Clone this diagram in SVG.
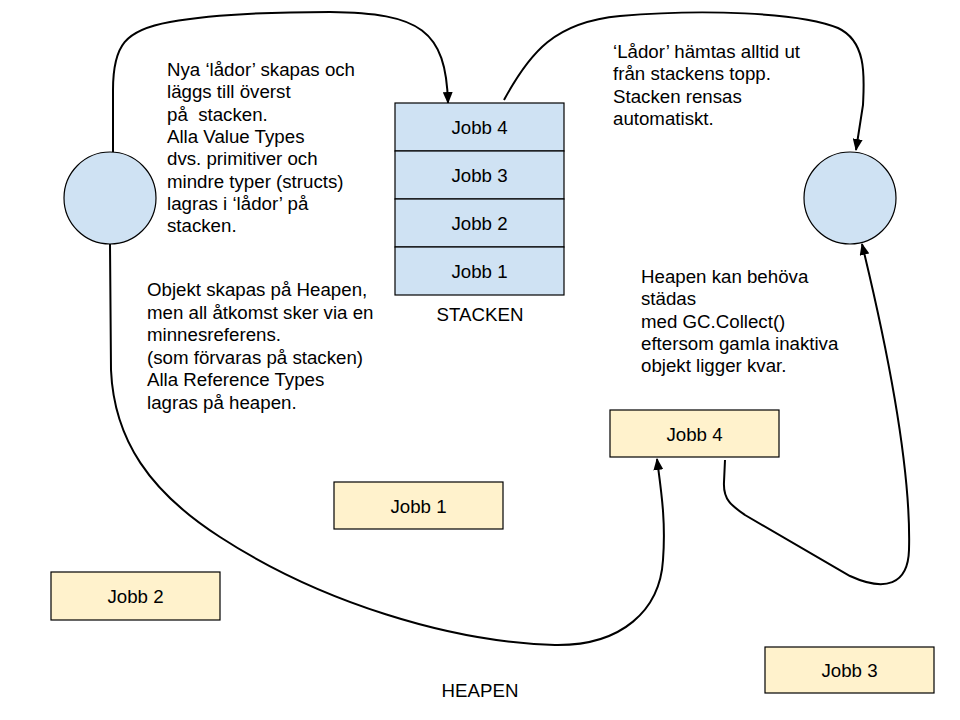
<svg xmlns="http://www.w3.org/2000/svg" width="960" height="720" viewBox="0 0 960 720">
<style>
text{font-family:"Liberation Sans",Arial,sans-serif;font-size:18.7px;fill:#000}
.c{text-anchor:middle}
.stk{fill:#cfe2f3;stroke:#000;stroke-width:1.2}
.hp{fill:#fff2cc;stroke:#000;stroke-width:1.2}
.con{fill:none;stroke:#000;stroke-width:2}
</style>
<defs>
<marker id="ah" markerUnits="userSpaceOnUse" markerWidth="12" markerHeight="10" refX="11" refY="5" orient="auto">
<path d="M0,0 L12,5 L0,10 z" fill="#000"/>
</marker>
</defs>
<rect width="960" height="720" fill="#fff"/>
<g id="connectors">
<path class="con" marker-end="url(#ah)" d="M113,152 L113,90 C113,45 125,30 170,22 C220,13 290,12 330,12 C420,13 446,30 448,103"/>
<path class="con" marker-end="url(#ah)" d="M504,100 C530,52 555,22 620,16 C700,9 800,12 838,28 C868,42 864,80 863,105 L856,150"/>
<path class="con" marker-end="url(#ah)" d="M110,244 L111,370 C114,440 150,492 220,537 C320,602 450,642 555,645 C622,646 660,610 663,560 C666,520 661,490 657,459"/>
<path class="con" marker-end="url(#ah)" d="M725,460 L724,482 C723,500 732,506 745,515 L850,576 C885,592 908,585 909,550 C911,480 895,380 862,244"/>
</g>
<g id="circle-left"><circle cx="110" cy="198" r="46" class="stk"/></g>
<g id="circle-right"><circle cx="850" cy="198" r="46" class="stk"/></g>
<g id="stack-jobb4"><rect x="395" y="103" width="169" height="48" class="stk"/><text class="c" x="479.5" y="134">Jobb 4</text></g>
<g id="stack-jobb3"><rect x="395" y="151" width="169" height="48" class="stk"/><text class="c" x="479.5" y="182">Jobb 3</text></g>
<g id="stack-jobb2"><rect x="395" y="199" width="169" height="48" class="stk"/><text class="c" x="479.5" y="230">Jobb 2</text></g>
<g id="stack-jobb1"><rect x="395" y="247" width="169" height="48" class="stk"/><text class="c" x="479.5" y="278">Jobb 1</text></g>
<g id="label-stacken"><text class="c" x="480" y="321">STACKEN</text></g>
<g id="label-heapen"><text class="c" x="480" y="697">HEAPEN</text></g>
<g id="heap-jobb1"><rect x="334" y="482" width="169" height="47" class="hp"/><text class="c" x="418.5" y="512.5">Jobb 1</text></g>
<g id="heap-jobb2"><rect x="51" y="572" width="169" height="48" class="hp"/><text class="c" x="135.5" y="603">Jobb 2</text></g>
<g id="heap-jobb4"><rect x="610" y="410" width="169" height="47" class="hp"/><text class="c" x="694.5" y="440.5">Jobb 4</text></g>
<g id="heap-jobb3"><rect x="765" y="647" width="169" height="46" class="hp"/><text class="c" x="849.5" y="677">Jobb 3</text></g>
<g id="note-push">
<text x="167" y="76">Nya ‘lådor’ skapas och</text>
<text x="167" y="98.3">läggs till överst</text>
<text x="167" y="120.6" xml:space="preserve">på  stacken.</text>
<text x="167" y="142.9">Alla Value Types</text>
<text x="167" y="165.2">dvs. primitiver och</text>
<text x="167" y="187.5">mindre typer (structs)</text>
<text x="167" y="209.8">lagras i ‘lådor’ på</text>
<text x="167" y="232.1">stacken.</text>
</g>
<g id="note-heap">
<text x="147" y="296">Objekt skapas på Heapen,</text>
<text x="147" y="318.5">men all åtkomst sker via en</text>
<text x="147" y="341">minnesreferens.</text>
<text x="147" y="363.5">(som förvaras på stacken)</text>
<text x="147" y="386">Alla Reference Types</text>
<text x="147" y="408.5">lagras på heapen.</text>
</g>
<g id="note-pop">
<text x="613" y="58">‘Lådor’ hämtas alltid ut</text>
<text x="613" y="80.3">från stackens topp.</text>
<text x="613" y="102.6">Stacken rensas</text>
<text x="613" y="124.9">automatiskt.</text>
</g>
<g id="note-gc">
<text x="641" y="283">Heapen kan behöva</text>
<text x="641" y="305.3">städas</text>
<text x="641" y="327.6">med GC.Collect()</text>
<text x="641" y="349.9">eftersom gamla inaktiva</text>
<text x="641" y="372.2">objekt ligger kvar.</text>
</g>
</svg>
